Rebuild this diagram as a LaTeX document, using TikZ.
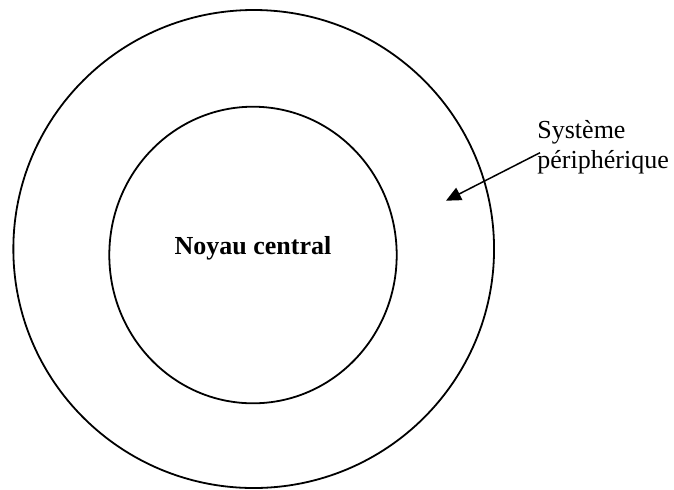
\documentclass[tikz,border=0pt]{standalone}
\usepackage{fontspec}
\setmainfont{Liberation Serif}
\usetikzlibrary{arrows.meta,shapes.geometric}
\begin{document}
\begin{tikzpicture}[x=0.5pt,y=-0.5pt,
  ring/.style={draw=black,line width=0.9pt,ellipse,inner sep=0pt},
  lbl/.style={font=\fontsize{13}{15.25}\selectfont,inner sep=0pt},
  pointer/.style={draw=black,line width=0.75pt,-{Triangle[length=7.5pt,width=6.8pt]}}]
\useasboundingbox (0,0) rectangle (674,489);
\node[ring,minimum width=480.7*0.5pt,minimum height=478*0.5pt] (outer) at (253.7,249) {};
\node[ring,minimum width=287.4*0.5pt,minimum height=296.6*0.5pt] (inner) at (253,255) {};
\node[lbl,font=\fontsize{13}{15.25}\selectfont\bfseries] (core) at (253,248) {Noyau central};
\node[lbl,align=left,anchor=north west] (periph) at (537,120) {Système\\périphérique};
\coordinate (arrS) at (540,152.7);
\coordinate (arrT) at (446,200.7);
\draw[pointer] (arrS) -- (arrT);
\end{tikzpicture}
\end{document}
